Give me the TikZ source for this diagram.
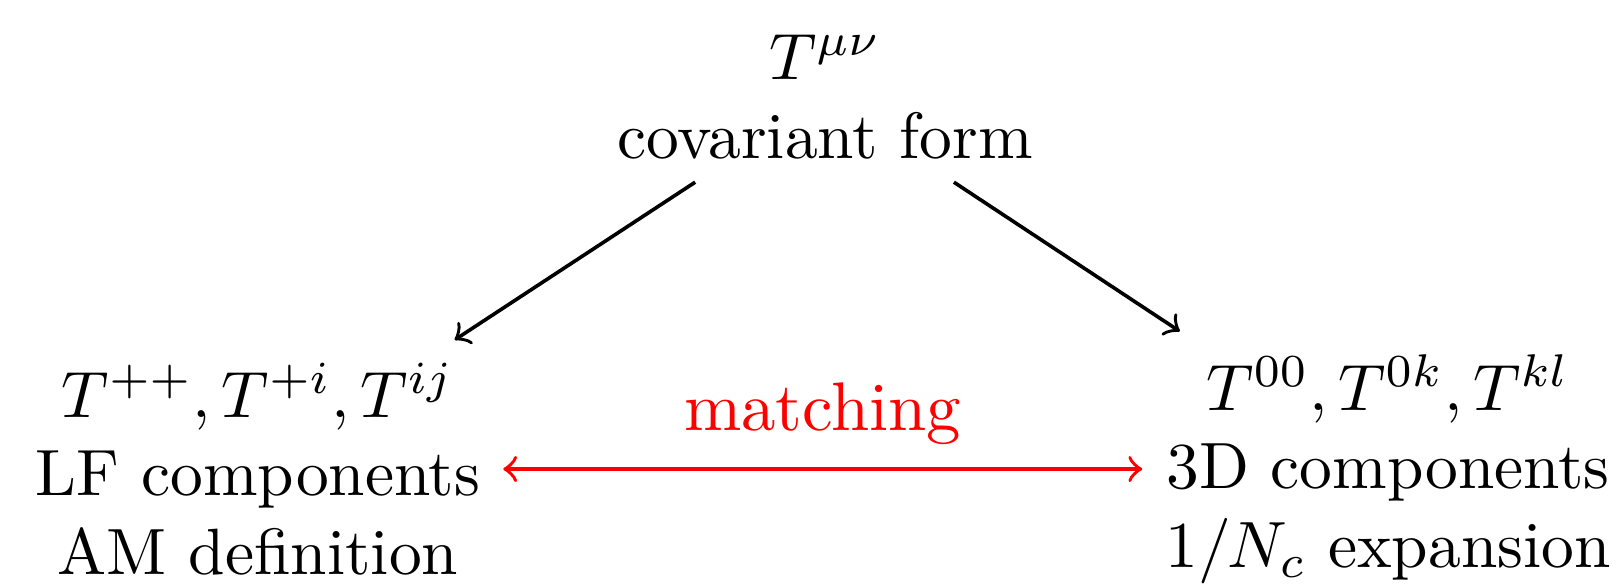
\documentclass[tikz,border=0pt]{standalone}
\usetikzlibrary{arrows}
\begin{document}
\begin{tikzpicture}[x=0.1527pt,y=-0.1527pt,
  lbl/.style={align=center},
  conn/.style={-to, line width=0.55pt},
  match/.style={to-to, red, line width=0.55pt}]
\useasboundingbox (0,0) rectangle (1624,583);
\node[lbl] (top) at (825,97) {$T^{\mu\nu}$\\covariant form};
\node[lbl] (lf) at (258,469) {$T^{++},T^{+i},T^{ij}$\\LF components\\AM definition};
\node[lbl] (td) at (1388,469) {$T^{00},T^{0k},T^{kl}$\\3D components\\$1/N_c$ expansion};
\draw[conn] (top) -- (lf);
\draw[conn] (top) -- (td);
\draw[match] (lf) -- node[above, scale=1.05] (m) {matching} (td);
\end{tikzpicture}
\end{document}
